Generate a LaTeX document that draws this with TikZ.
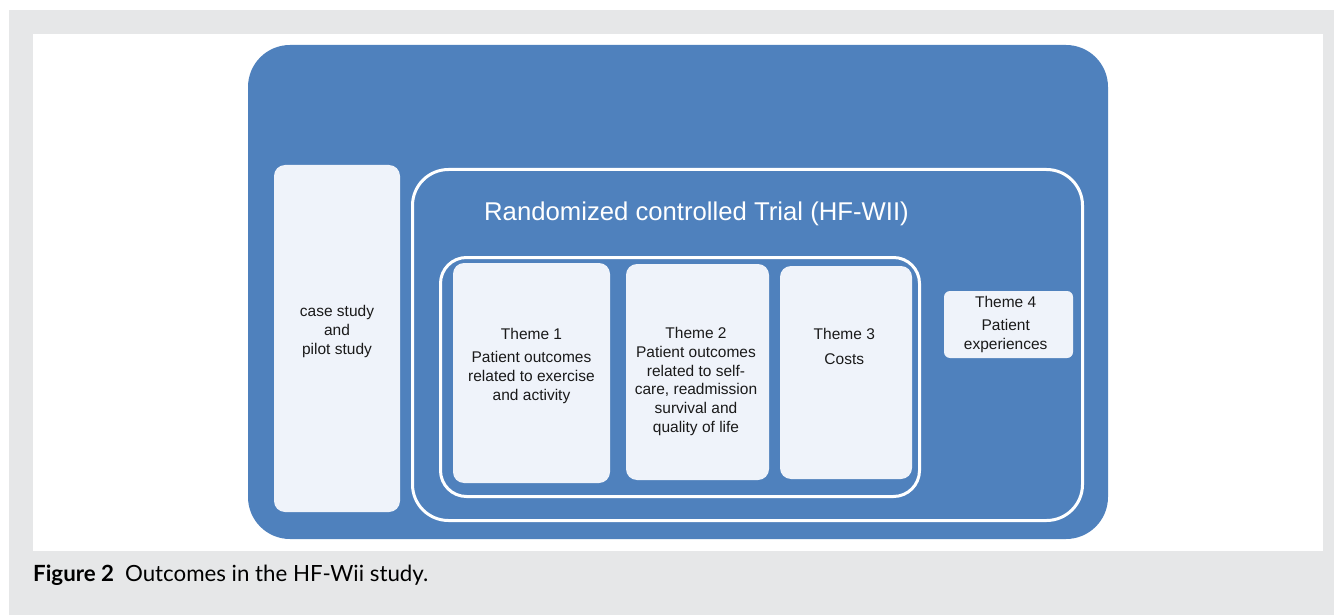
\documentclass[tikz,border=0pt]{standalone}
\usepackage{fontspec}
\setmainfont{Liberation Sans}
\newfontfamily\capfont{Lato}
\definecolor{pagegray}{HTML}{E6E7E8}
\definecolor{boxblue}{HTML}{4F81BD}
\definecolor{boxlight}{HTML}{EFF3FA}
\definecolor{txt}{HTML}{1A1A1A}
\begin{document}
\begin{tikzpicture}[x=1pt,y=-1pt,
  bluebox/.style={fill=boxblue, draw=none, inner sep=0pt, rounded corners=42pt},
  lightbox/.style={fill=boxlight, draw=none, inner sep=0pt, rounded corners=11pt},
  frame/.style={draw=white, line width=3pt, fill=none, inner sep=0pt},
  bodytext/.style={font=\fontsize{15.5}{18.9}\selectfont, text=txt, align=center, anchor=base, inner sep=0pt},
  titletext/.style={font=\fontsize{25.7}{30}\selectfont, text=white, anchor=base, inner sep=0pt},
  captext/.style={font=\capfont\fontsize{22.3}{26}\selectfont, text=black, anchor=base west, inner sep=0pt}]
\useasboundingbox (0,0) rectangle (1334,615);
\fill[white] (0,0) rectangle (1334,615);
\fill[pagegray] (9,10) rectangle (1334,615);
\fill[white] (33,34) rectangle (1323,551);

% boxes
\node[bluebox, minimum width=860, minimum height=494] (outer) at (678,292) {};
\node[lightbox, minimum width=126, minimum height=347] (case) at (337,338.5) {};
\node[frame, rounded corners=36pt, minimum width=670, minimum height=351] (rct) at (747.5,345) {};
\node[frame, rounded corners=26pt, minimum width=479, minimum height=239] (inner) at (680,377) {};
\node[lightbox, minimum width=157, minimum height=220] (t1) at (531.5,373) {};
\node[lightbox, minimum width=143, minimum height=216] (t2) at (697.5,372) {};
\node[lightbox, minimum width=132, minimum height=213] (t3) at (846,372.5) {};
\node[lightbox, rounded corners=6pt, minimum width=129, minimum height=67] (t4) at (1008.5,324.5) {};

% texts (anchor base = baseline of the last line)
\node[titletext] (title) at (696.5,220) {Randomized controlled Trial (HF-WII)};
\node[bodytext] (casetxt) at (337,354) {case study\\and\\pilot study};
\node[bodytext] (t1txt) at (531.5,400.7) {Theme 1\\[4.7pt]Patient outcomes\\related to exercise\\and activity};
\node[bodytext] (t2txt) at (696,432.7) {Theme 2\\Patient outcomes\\related to self-\\care, readmission\\survival and\\quality of life};
\node[bodytext] (t3txt) at (844.3,364.3) {Theme 3\\[6pt]Costs};
\node[bodytext] (t4txt) at (1005.7,349) {Theme 4\\[3.9pt]Patient\\experiences};

% caption
\node[captext] (cap) at (33,581.7) {\textbf{Figure 2}\hspace{11pt}Outcomes in the HF-Wii study.};
\end{tikzpicture}
\end{document}
